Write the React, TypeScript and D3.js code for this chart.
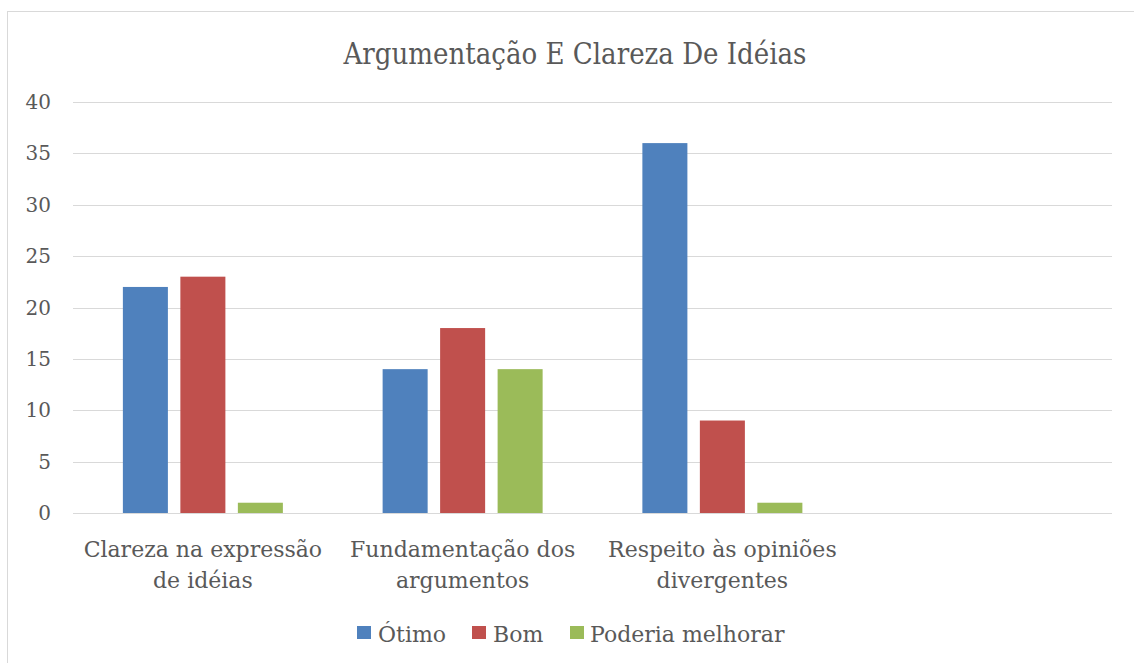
import React from "react";
import * as d3 from "d3";

const categories = [
  ["Clareza na expressão", "de idéias"],
  ["Fundamentação dos", "argumentos"],
  ["Respeito às opiniões", "divergentes"],
  [""],
];
const seriesNames = ["Ótimo", "Bom", "Poderia melhorar"];
const otimo = [22, 14, 36, null];
const bom = [23, 18, 9, null];
const poderia = [1, 14, 1, null];
const yTicks = [0, 5, 10, 15, 20, 25, 30, 35, 40];
const colors = ["#4F81BD", "#C0504D", "#9BBB59"];

const W = 1134;
const H = 663;
const FONT = "'DejaVu Serif', 'Liberation Serif', serif";
const TXT = "#595959";

export default function App() {
  const series = [otimo, bom, poderia];
  const left = 73, right = 1112, top = 102, bottom = 513;
  const x = d3.scaleBand<number>().domain(d3.range(categories.length)).range([left, right]).paddingInner(0).paddingOuter(0);
  const y = d3.scaleLinear().domain([0, 40]).range([bottom, top]);
  const bw = x.bandwidth();
  const inner = d3.scaleBand<number>().domain([0, 1, 2]).range([bw / 2 - 80, bw / 2 + 80]).paddingInner(0.217).paddingOuter(0);

  const legendItems = [
    { x: 357, tx: 378 },
    { x: 472, tx: 493 },
    { x: 570, tx: 590 },
  ];

  return (
    <svg width={W} height={H} style={{ position: "absolute", left: 0, top: 0, background: "#fff" }}>
      <rect x={7.5} y={11.5} width={W} height={H} fill="#fff" stroke="#D9D9D9" strokeWidth={1} />
      <text x={575} y={64} textAnchor="middle" fontFamily={FONT} fontSize={29} fill={TXT} style={{ fontStretch: "condensed" }}>
        Argumentação E Clareza De Idéias
      </text>
      {yTicks.map((t) => (
        <g key={t}>
          <line x1={left} x2={right} y1={Math.round(y(t)) + 0.5} y2={Math.round(y(t)) + 0.5} stroke="#D9D9D9" strokeWidth={1} />
          <text x={51} y={y(t) + 7} textAnchor="end" fontFamily={FONT} fontSize={20} fill={TXT}>
            {t}
          </text>
        </g>
      ))}
      {categories.map((c, ci) =>
        series.map((s, si) => {
          const v = s[ci];
          if (v == null) return null;
          const bx = (x(ci) as number) + (inner(si) as number);
          return (
            <rect key={`${ci}-${si}`} x={bx} y={y(v)} width={inner.bandwidth()} height={y(0) - y(v)} fill={colors[si]} />
          );
        })
      )}
      {categories.map((c, ci) => (
        <text key={ci} textAnchor="middle" fontFamily={FONT} fontSize={22} fill={TXT}>
          {c.map((line, li) => (
            <tspan key={li} x={(x(ci) as number) + bw / 2} y={557 + li * 31}>
              {line}
            </tspan>
          ))}
        </text>
      ))}
      {seriesNames.map((n, i) => (
        <g key={n}>
          <rect x={legendItems[i].x} y={626} width={14} height={13} fill={colors[i]} />
          <text x={legendItems[i].tx} y={642} fontFamily={FONT} fontSize={22} fill={TXT}>
            {n}
          </text>
        </g>
      ))}
    </svg>
  );
}
